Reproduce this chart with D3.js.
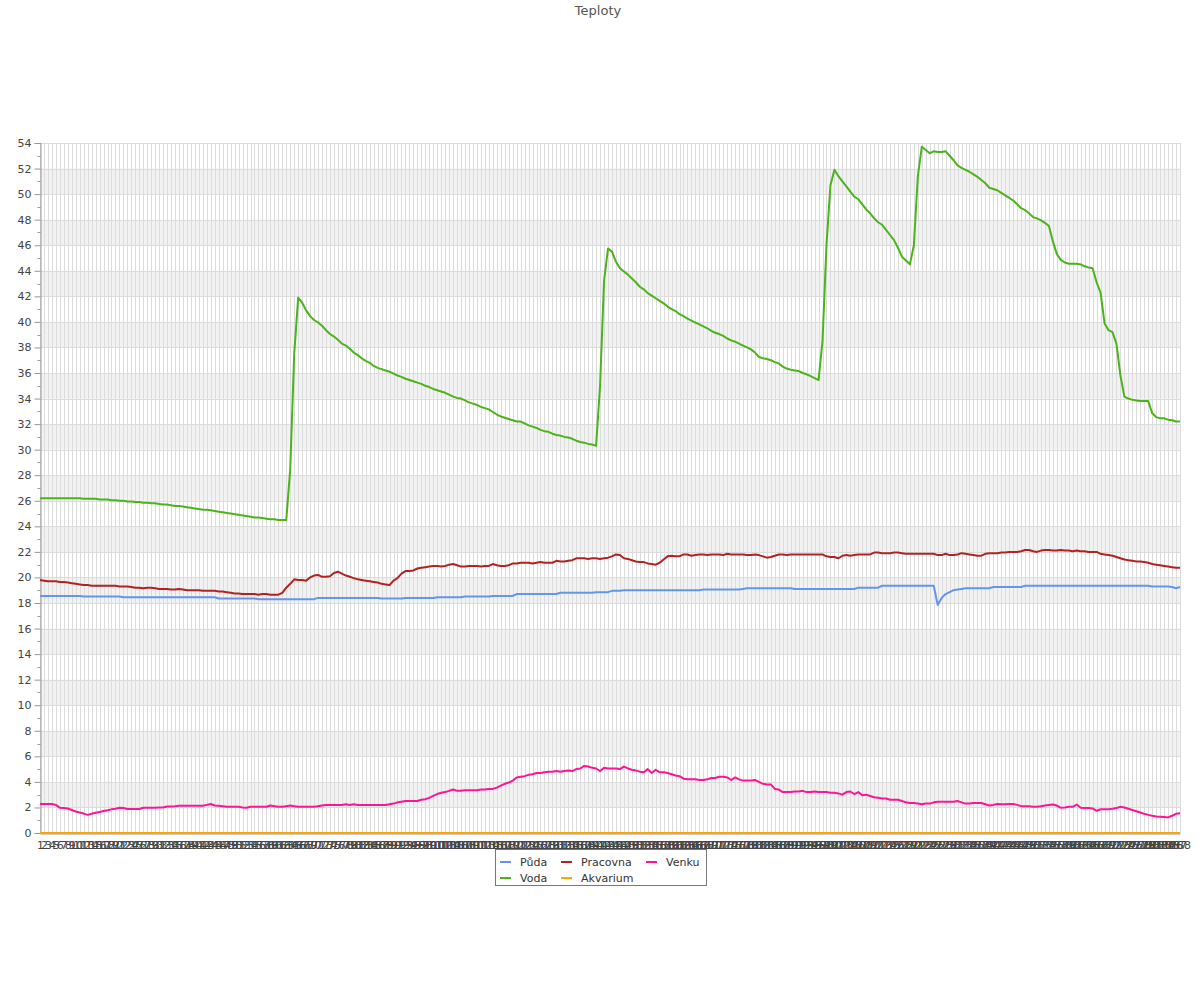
<!DOCTYPE html>
<html><head><meta charset="utf-8">
<script src="https://cdn.jsdelivr.net/npm/d3@7"></script>
<style>body{margin:0;background:#fff;font-family:"DejaVu Sans",sans-serif}</style>
</head><body><svg id="c" width="1200" height="1000"></svg>
<script>
const title = "Teploty";
const seriesNames = ["Půda","Pracovna","Venku","Voda","Akvarium"];
const seriesColors = ["#6495ed","#b22222","#ff1493","#4cb31a","#ffa500"];
const yTicks = d3.range(0, 55, 2);

const voda = [
26.2,26.2,26.2,26.2,26.2,26.2,26.2,26.2,26.2,26.2,
26.2,26.15,26.15,26.15,26.15,26.1,26.1,26.1,26.05,26.05,
26.0,26.0,25.95,25.95,25.9,25.9,25.85,25.85,25.8,25.8,
25.75,25.7,25.7,25.65,25.6,25.6,25.55,25.5,25.45,25.4,
25.35,25.3,25.3,25.25,25.2,25.15,25.1,25.05,25.0,24.95,
24.9,24.85,24.8,24.75,24.7,24.7,24.65,24.6,24.55,24.55,
24.5,24.5,24.5,28.5,37.5,41.9,41.5,40.9,40.45,40.15,
39.95,39.7,39.35,39.05,38.85,38.6,38.3,38.15,37.9,37.6,
37.4,37.15,36.95,36.8,36.55,36.4,36.3,36.2,36.1,35.95,
35.8,35.7,35.55,35.45,35.35,35.25,35.15,35.0,34.9,34.75,
34.65,34.55,34.45,34.3,34.15,34.05,34.0,33.85,33.7,33.6,
33.5,33.35,33.25,33.15,32.95,32.75,32.6,32.5,32.4,32.3,
32.2,32.2,32.05,31.9,31.8,31.7,31.55,31.45,31.4,31.25,
31.15,31.1,31.0,30.95,30.85,30.7,30.6,30.55,30.45,30.4,
30.3,35.0,43.2,45.75,45.5,44.7,44.2,43.95,43.7,43.4,
43.1,42.75,42.55,42.25,42.05,41.85,41.65,41.45,41.2,41.0,
40.85,40.6,40.45,40.25,40.1,39.95,39.8,39.65,39.5,39.3,
39.15,39.05,38.9,38.7,38.55,38.45,38.3,38.15,38.0,37.85,
37.6,37.25,37.15,37.1,37.0,36.85,36.75,36.5,36.35,36.25,
36.2,36.15,36.0,35.9,35.75,35.6,35.45,38.5,46.0,50.7,
51.9,51.4,51.0,50.6,50.2,49.8,49.6,49.2,48.8,48.5,
48.1,47.8,47.6,47.2,46.8,46.4,45.8,45.1,44.8,44.5,
46.0,51.4,53.7,53.45,53.2,53.35,53.3,53.3,53.35,53.0,
52.65,52.25,52.05,51.9,51.75,51.55,51.35,51.1,50.85,50.5,
50.4,50.3,50.1,49.9,49.7,49.5,49.2,48.9,48.75,48.5,
48.2,48.1,47.95,47.75,47.5,46.3,45.3,44.85,44.65,44.55,
44.55,44.55,44.5,44.35,44.25,44.2,43.1,42.3,39.9,39.35,
39.2,38.3,35.8,34.15,34.0,33.9,33.85,33.8,33.8,33.8,
32.85,32.55,32.45,32.45,32.35,32.3,32.2,32.2];

const pracovna = [
19.8,19.75,19.7,19.7,19.7,19.65,19.65,19.6,19.55,19.5,
19.45,19.4,19.4,19.35,19.35,19.35,19.35,19.35,19.35,19.35,
19.3,19.3,19.3,19.25,19.2,19.2,19.15,19.2,19.2,19.15,
19.1,19.1,19.1,19.05,19.05,19.1,19.05,19.0,19.0,19.0,
19.0,18.95,18.95,18.95,18.95,18.9,18.9,18.85,18.8,18.75,
18.75,18.7,18.7,18.7,18.7,18.65,18.7,18.7,18.65,18.65,
18.65,18.8,19.2,19.5,19.85,19.8,19.8,19.75,20.0,20.15,
20.2,20.05,20.05,20.1,20.35,20.45,20.3,20.15,20.05,19.95,
19.85,19.8,19.75,19.7,19.65,19.6,19.5,19.45,19.4,19.75,
19.95,20.3,20.5,20.5,20.55,20.7,20.75,20.8,20.85,20.9,
20.9,20.85,20.9,21.0,21.05,20.95,20.85,20.85,20.9,20.9,
20.9,20.85,20.9,20.9,21.05,20.95,20.9,20.9,20.95,21.1,
21.1,21.15,21.15,21.15,21.1,21.15,21.2,21.15,21.15,21.15,
21.3,21.25,21.25,21.3,21.35,21.5,21.5,21.5,21.45,21.5,
21.5,21.45,21.5,21.55,21.65,21.8,21.75,21.5,21.45,21.35,
21.25,21.2,21.2,21.1,21.05,21.0,21.15,21.4,21.65,21.7,
21.65,21.65,21.8,21.8,21.7,21.75,21.8,21.8,21.75,21.8,
21.8,21.8,21.75,21.85,21.8,21.8,21.8,21.8,21.75,21.75,
21.8,21.75,21.65,21.55,21.6,21.7,21.8,21.8,21.75,21.8,
21.8,21.8,21.8,21.8,21.8,21.8,21.8,21.8,21.65,21.6,
21.6,21.5,21.7,21.75,21.7,21.75,21.8,21.8,21.8,21.8,
21.95,21.95,21.9,21.9,21.9,21.95,21.95,21.9,21.85,21.85,
21.85,21.85,21.85,21.85,21.85,21.85,21.75,21.75,21.85,21.75,
21.75,21.8,21.9,21.85,21.8,21.75,21.7,21.7,21.85,21.9,
21.9,21.9,21.95,21.95,22.0,22.0,22.0,22.05,22.15,22.15,
22.05,22.0,22.1,22.15,22.15,22.1,22.1,22.15,22.1,22.1,
22.05,22.1,22.05,22.05,22.0,22.0,22.0,21.85,21.8,21.75,
21.7,21.6,21.5,21.4,21.35,21.3,21.25,21.25,21.2,21.15,
21.05,21.0,20.95,20.9,20.85,20.8,20.75,20.75];

const puda = [
18.55,18.55,18.55,18.55,18.55,18.55,18.55,18.55,18.55,18.55,
18.55,18.5,18.5,18.5,18.5,18.5,18.5,18.5,18.5,18.5,
18.5,18.45,18.45,18.45,18.45,18.45,18.45,18.45,18.45,18.45,
18.45,18.45,18.45,18.45,18.45,18.45,18.45,18.45,18.45,18.45,
18.45,18.45,18.45,18.45,18.45,18.35,18.35,18.35,18.35,18.35,
18.35,18.35,18.35,18.35,18.35,18.3,18.3,18.3,18.3,18.3,
18.3,18.3,18.3,18.3,18.3,18.3,18.3,18.3,18.3,18.3,
18.4,18.4,18.4,18.4,18.4,18.4,18.4,18.4,18.4,18.4,
18.4,18.4,18.4,18.4,18.4,18.4,18.35,18.35,18.35,18.35,
18.35,18.35,18.4,18.4,18.4,18.4,18.4,18.4,18.4,18.4,
18.45,18.45,18.45,18.45,18.45,18.45,18.45,18.5,18.5,18.5,
18.5,18.5,18.5,18.5,18.55,18.55,18.55,18.55,18.55,18.55,
18.7,18.7,18.7,18.7,18.7,18.7,18.7,18.7,18.7,18.7,
18.7,18.8,18.8,18.8,18.8,18.8,18.8,18.8,18.8,18.8,
18.85,18.85,18.85,18.85,18.95,18.95,18.95,19.0,19.0,19.0,
19.0,19.0,19.0,19.0,19.0,19.0,19.0,19.0,19.0,19.0,
19.0,19.0,19.0,19.0,19.0,19.0,19.0,19.05,19.05,19.05,
19.05,19.05,19.05,19.05,19.05,19.05,19.05,19.1,19.15,19.15,
19.15,19.15,19.15,19.15,19.15,19.15,19.15,19.15,19.15,19.15,
19.1,19.1,19.1,19.1,19.1,19.1,19.1,19.1,19.1,19.1,
19.1,19.1,19.1,19.1,19.1,19.1,19.2,19.2,19.2,19.2,
19.2,19.2,19.35,19.35,19.35,19.35,19.35,19.35,19.35,19.35,
19.35,19.35,19.35,19.35,19.35,19.35,17.85,18.4,18.7,18.85,
19.0,19.05,19.1,19.15,19.15,19.15,19.15,19.15,19.15,19.15,
19.25,19.25,19.25,19.25,19.25,19.25,19.25,19.25,19.35,19.35,
19.35,19.35,19.35,19.35,19.35,19.35,19.35,19.35,19.35,19.35,
19.35,19.35,19.35,19.35,19.35,19.35,19.35,19.35,19.35,19.35,
19.35,19.35,19.35,19.35,19.35,19.35,19.35,19.35,19.35,19.35,
19.3,19.3,19.3,19.3,19.3,19.25,19.15,19.25];

const venku = [
2.27,2.27,2.27,2.27,2.2,1.97,1.95,1.92,1.8,1.68,
1.6,1.52,1.42,1.5,1.58,1.65,1.72,1.78,1.85,1.9,
1.97,1.95,1.88,1.88,1.88,1.88,1.97,1.97,1.97,1.97,
2.0,2.0,2.08,2.08,2.1,2.13,2.13,2.13,2.13,2.13,
2.13,2.13,2.2,2.27,2.15,2.13,2.1,2.05,2.05,2.05,
2.05,2.0,1.97,2.05,2.05,2.05,2.05,2.05,2.15,2.1,
2.05,2.05,2.1,2.15,2.1,2.05,2.05,2.05,2.05,2.05,
2.1,2.15,2.2,2.2,2.2,2.2,2.2,2.25,2.2,2.25,
2.2,2.2,2.2,2.2,2.2,2.2,2.2,2.2,2.25,2.3,
2.4,2.45,2.5,2.5,2.5,2.5,2.6,2.65,2.75,2.9,
3.05,3.15,3.2,3.3,3.4,3.3,3.3,3.35,3.35,3.35,
3.35,3.4,3.4,3.45,3.45,3.55,3.7,3.85,3.95,4.1,
4.35,4.4,4.45,4.55,4.6,4.7,4.7,4.75,4.8,4.8,
4.85,4.8,4.85,4.9,4.85,5.0,5.05,5.25,5.2,5.1,
5.05,4.85,5.1,5.05,5.05,5.05,5.0,5.2,5.05,4.95,
4.9,4.8,4.75,5.0,4.7,4.95,4.75,4.75,4.7,4.6,
4.5,4.45,4.25,4.2,4.2,4.2,4.15,4.15,4.2,4.3,
4.3,4.4,4.4,4.35,4.15,4.35,4.2,4.1,4.1,4.1,
4.15,4.0,3.85,3.8,3.8,3.45,3.4,3.2,3.2,3.2,
3.25,3.25,3.3,3.2,3.2,3.25,3.2,3.2,3.2,3.15,
3.15,3.1,3.0,3.2,3.25,3.05,3.2,2.95,3.0,2.9,
2.8,2.75,2.7,2.7,2.6,2.6,2.6,2.5,2.4,2.35,
2.35,2.3,2.25,2.3,2.3,2.4,2.45,2.45,2.45,2.45,
2.45,2.5,2.4,2.3,2.3,2.35,2.35,2.35,2.25,2.15,
2.2,2.27,2.25,2.25,2.27,2.27,2.2,2.1,2.1,2.1,
2.05,2.05,2.1,2.15,2.2,2.23,2.15,1.97,2.0,2.05,
2.05,2.23,1.97,1.95,1.95,1.92,1.74,1.86,1.86,1.86,
1.9,1.95,2.05,2.0,1.9,1.8,1.7,1.6,1.5,1.42,
1.35,1.3,1.28,1.25,1.22,1.35,1.5,1.55];

const akvarium = voda.map(() => 0);
const categories = voda.map((d, i) => String(i + 1));
const seriesData = [puda, pracovna, venku, voda, akvarium];

const svg = d3.select("#c");
const W = 1200, H = 1000;
const m = {left: 40, right: 20, top: 143, bottom: 167};
const x = d3.scalePoint().domain(categories).range([m.left, W - m.right]);
const y = d3.scaleLinear().domain([0, 54]).range([H - m.bottom, m.top]);

svg.append("rect").attr("width", W).attr("height", H).attr("fill", "#fff");

// alternating bands
const bands = d3.range(2, 54, 4);
svg.append("g").selectAll("rect").data(bands).join("rect")
  .attr("x", m.left).attr("width", W - m.right - m.left)
  .attr("y", d => y(d + 2)).attr("height", d => y(d) - y(d + 2))
  .attr("fill", "#f2f2f2");

// vertical grid
svg.append("g").selectAll("line").data(categories).join("line")
  .attr("x1", d => Math.round(x(d)) + 0.5).attr("x2", d => Math.round(x(d)) + 0.5)
  .attr("y1", y(54)).attr("y2", y(0))
  .attr("stroke", "#dcdcdc").attr("stroke-width", 1);

// horizontal grid
svg.append("g").selectAll("line").data(yTicks).join("line")
  .attr("x1", m.left).attr("x2", W - m.right)
  .attr("y1", d => Math.round(y(d)) + 0.5).attr("y2", d => Math.round(y(d)) + 0.5)
  .attr("stroke", "#dcdcdc").attr("stroke-width", 1);

// y axis
const yAxis = svg.append("g").attr("transform", `translate(${m.left + 0.5},0)`)
  .call(d3.axisLeft(y).tickValues(yTicks).tickSize(6).tickPadding(3));
yAxis.append("g").selectAll("line").data(d3.range(1, 54, 2)).join("line")
  .attr("x1", -3).attr("x2", 0).attr("y1", d => Math.round(y(d)) + 0.5).attr("y2", d => Math.round(y(d)) + 0.5)
  .attr("stroke", "#999");
yAxis.select(".domain").attr("stroke", "#999");
yAxis.selectAll(".tick line").attr("stroke", "#999");
yAxis.selectAll("text").attr("fill", "#444").style("font-family", "DejaVu Sans").style("font-size", "11px");

// x axis
const xAxis = svg.append("g").attr("transform", `translate(0,${y(0) + 0.5})`)
  .call(d3.axisBottom(x).tickSize(0).tickPadding(8));
xAxis.select(".domain").attr("stroke", "#999");
xAxis.selectAll("text").attr("fill", "#444").style("font-family", "DejaVu Sans").style("font-size", "11px");

// lines
const line = d3.line().x((d, i) => x(categories[i])).y(d => y(d));
const order = [4, 0, 1, 2, 3];
svg.append("g").selectAll("path").data(order).join("path")
  .attr("d", k => line(seriesData[k]))
  .attr("fill", "none").attr("stroke", k => seriesColors[k])
  .attr("stroke-width", 2).attr("stroke-linejoin", "round");

// title
svg.append("text").attr("x", 598).attr("y", 15).attr("text-anchor", "middle")
  .attr("fill", "#555").style("font-size", "13px").text(title);

// legend
const lg = svg.append("g");
lg.append("rect").attr("x", 495.5).attr("y", 849.5).attr("width", 211).attr("height", 36)
  .attr("fill", "#fff").attr("stroke", "#777");
const cols = [500, 561, 646], rows = [862, 878];
seriesNames.forEach((n, k) => {
  const cx = cols[k % 3], cy = rows[Math.floor(k / 3)];
  lg.append("line").attr("x1", cx).attr("x2", cx + 11).attr("y1", cy).attr("y2", cy)
    .attr("stroke", seriesColors[k]).attr("stroke-width", 2);
  lg.append("text").attr("x", cx + 20).attr("y", cy + 4).attr("fill", "#333")
    .style("font-size", "11px").text(n);
});
</script></body></html>
